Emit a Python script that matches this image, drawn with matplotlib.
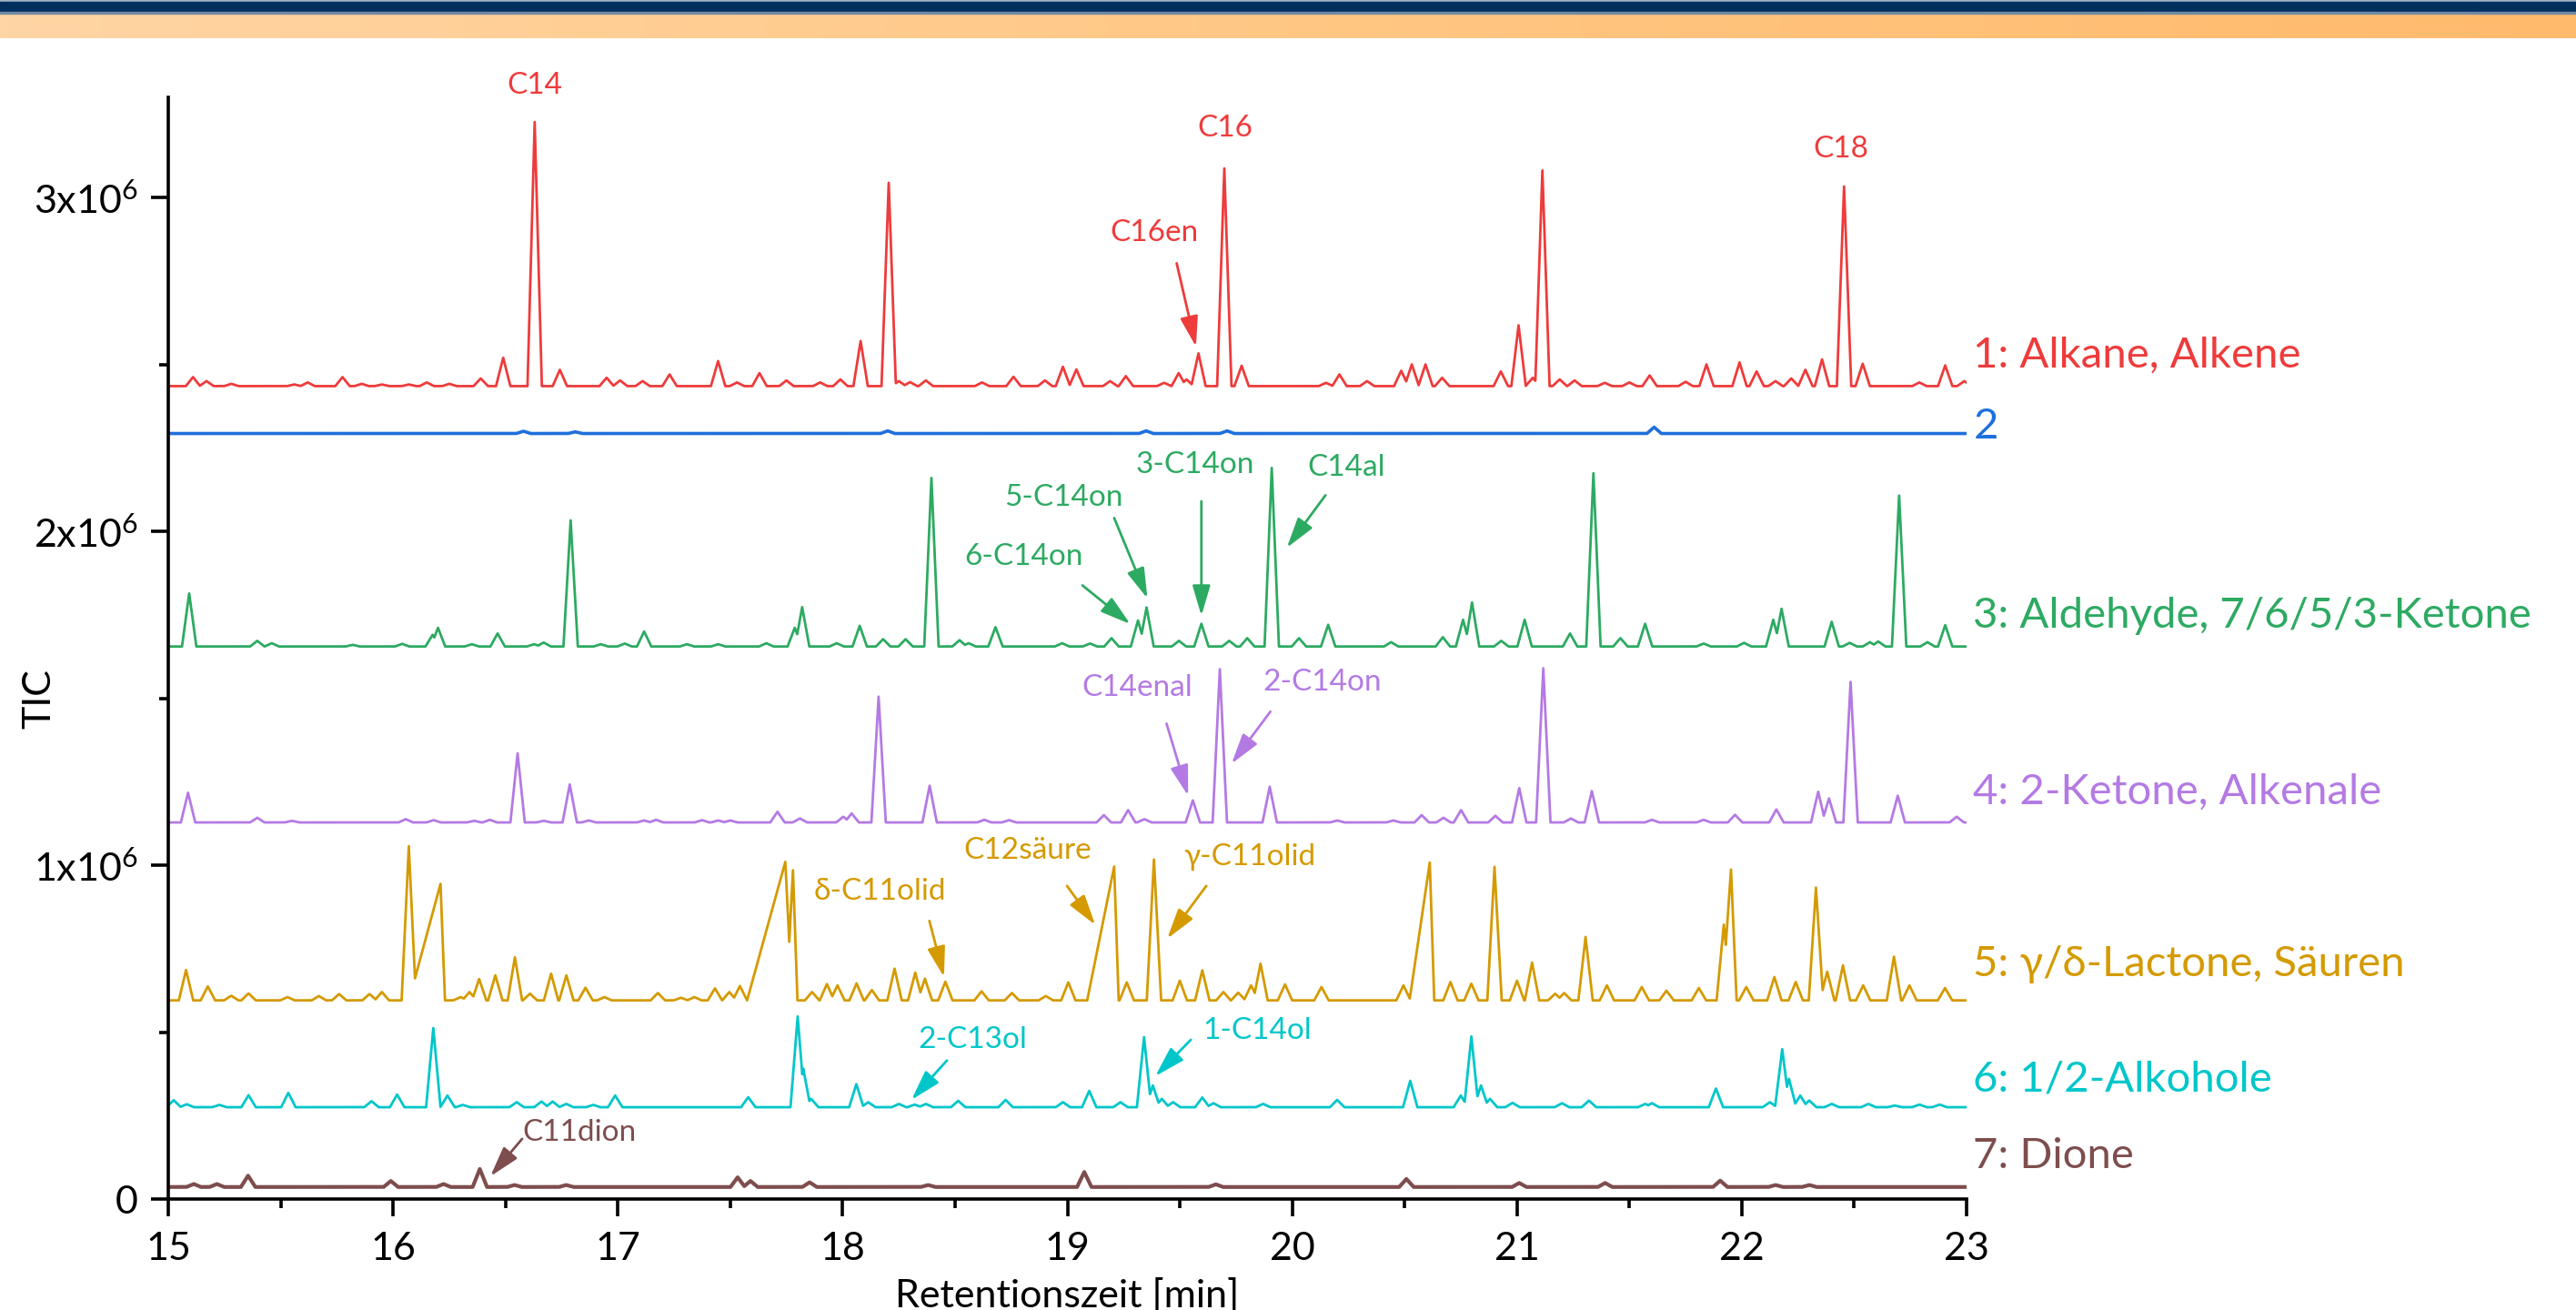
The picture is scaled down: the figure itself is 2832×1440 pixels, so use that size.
"""GC-MS TIC traces (15-23 min) for seven substance-class fractions, stacked with offsets."""

import matplotlib

matplotlib.use("Agg")
import matplotlib.pyplot as plt  # noqa: E402
import numpy as np  # noqa: E402
from matplotlib.colors import LinearSegmentedColormap  # noqa: E402

plt.rcParams["font.family"] = ["Lato", "DejaVu Sans"]
plt.rcParams["mathtext.fontset"] = "custom"
plt.rcParams["mathtext.rm"] = "Lato"
plt.rcParams["mathtext.it"] = "Lato:italic"

# --- data: baseline and peak table (retention time [min], TIC apex [x10^6]) per trace.
# Optional 3rd/4th entries are left/right peak half-widths for broad or leading peaks.
TRACE_NAMES = [
    "1: Alkane, Alkene",
    "2",
    "3: Aldehyde, 7/6/5/3-Ketone",
    "4: 2-Ketone, Alkenale",
    "5: γ/δ-Lactone, Säuren",
    "6: 1/2-Alkohole",
    "7: Dione",
]

RED_BASE = 2.435
RED_PEAKS = [
    (15.11, 2.462), (15.17, 2.45), (15.28, 2.442), (15.56, 2.44), (15.62, 2.446),
    (15.775, 2.462), (15.86, 2.442), (15.95, 2.44), (16.07, 2.44), (16.15, 2.446),
    (16.25, 2.442), (16.39, 2.458), (16.49, 2.52), (16.63, 3.226), (16.742, 2.484),
    (16.95, 2.46), (17.01, 2.452), (17.11, 2.45), (17.23, 2.47), (17.446, 2.51),
    (17.53, 2.446), (17.63, 2.474), (17.75, 2.452), (17.90, 2.446), (17.99, 2.455),
    (18.08, 2.57), (18.205, 3.044), (18.25, 2.45), (18.30, 2.447), (18.37, 2.452),
    (18.62, 2.446), (18.76, 2.463), (18.90, 2.452), (18.98, 2.493), (19.04, 2.485),
    (19.19, 2.45), (19.26, 2.465), (19.43, 2.445), (19.495, 2.474), (19.53, 2.455),
    (19.583, 2.533), (19.698, 3.087), (19.775, 2.496), (20.15, 2.445), (20.21, 2.47),
    (20.333, 2.45), (20.485, 2.481), (20.532, 2.50), (20.593, 2.50), (20.667, 2.46),
    (20.928, 2.479), (21.007, 2.617), (21.07, 2.46), (21.113, 3.081), (21.19, 2.455),
    (21.256, 2.452), (21.39, 2.445), (21.5, 2.446), (21.59, 2.467), (21.75, 2.448),
    (21.843, 2.50), (21.99, 2.506), (22.066, 2.479), (22.15, 2.45), (22.22, 2.458),
    (22.283, 2.484), (22.357, 2.515), (22.455, 3.033), (22.538, 2.502), (22.79, 2.446),
    (22.905, 2.497), (22.99, 2.45),
]

BLUE_BASE = 2.293
BLUE_PEAKS = [
    (16.58, 2.30), (16.81, 2.298), (18.20, 2.301), (19.35, 2.301), (19.71, 2.301),
    (21.61, 2.312),
]

GREEN_BASE = 1.655
GREEN_PEAKS = [
    (15.093, 1.814), (15.396, 1.672), (15.46, 1.665), (15.82, 1.66), (16.04, 1.663),
    (16.176, 1.69), (16.20, 1.711), (16.35, 1.662), (16.465, 1.694), (16.627, 1.662),
    (16.67, 1.667), (16.79, 2.033), (16.924, 1.662), (17.03, 1.664), (17.117, 1.70),
    (17.307, 1.662), (17.446, 1.662), (17.66, 1.665), (17.787, 1.711), (17.82, 1.773),
    (17.973, 1.665), (18.076, 1.717), (18.18, 1.677), (18.28, 1.677), (18.395, 2.160),
    (18.52, 1.674), (18.56, 1.665), (18.68, 1.713), (18.976, 1.665), (19.10, 1.664),
    (19.196, 1.68), (19.314, 1.733), (19.352, 1.772), (19.496, 1.672), (19.596, 1.723),
    (19.72, 1.672), (19.80, 1.68), (19.909, 2.190), (20.03, 1.68), (20.16, 1.72),
    (20.44, 1.668), (20.67, 1.683), (20.76, 1.735), (20.80, 1.787), (20.93, 1.672),
    (21.034, 1.735), (21.236, 1.694), (21.34, 2.174), (21.46, 1.68), (21.57, 1.723),
    (21.83, 1.664), (22.01, 1.666), (22.14, 1.735), (22.177, 1.768), (22.40, 1.729),
    (22.48, 1.666), (22.57, 1.668), (22.607, 1.67), (22.70, 2.107), (22.826, 1.668),
    (22.905, 1.719),
]

PURPLE_BASE = 1.128
PURPLE_PEAKS = [
    (15.088, 1.217), (15.396, 1.142), (15.55, 1.133), (16.056, 1.138), (16.18, 1.135),
    (16.36, 1.133), (16.43, 1.136), (16.554, 1.335), (16.67, 1.133), (16.786, 1.242),
    (16.87, 1.134), (17.116, 1.134), (17.17, 1.136), (17.374, 1.135), (17.446, 1.134),
    (17.50, 1.134), (17.71, 1.16), (17.81, 1.14), (18.003, 1.145), (18.04, 1.155),
    (18.16, 1.505), (18.387, 1.238), (18.63, 1.136), (18.74, 1.135), (19.162, 1.15),
    (19.27, 1.165), (19.342, 1.138), (19.558, 1.194), (19.678, 1.587), (19.90, 1.235),
    (20.2, 1.134), (20.45, 1.134), (20.576, 1.15), (20.673, 1.142), (20.751, 1.165),
    (20.904, 1.148), (21.01, 1.231), (21.117, 1.590), (21.24, 1.14), (21.333, 1.222),
    (21.60, 1.136), (21.83, 1.136), (21.97, 1.151), (22.154, 1.167), (22.34, 1.22),
    (22.388, 1.20), (22.484, 1.549), (22.694, 1.208), (22.956, 1.145),
]

GOLD_BASE = 0.595
GOLD_PEAKS = [
    (15.079, 0.686), (15.176, 0.637), (15.28, 0.609), (15.357, 0.616), (15.53, 0.605),
    (15.67, 0.608), (15.76, 0.614), (15.895, 0.614), (15.95, 0.62), (16.07, 1.057),
    (16.211, 0.944, 0.14, 0.02), (16.30, 0.605), (16.34, 0.62), (16.383, 0.659),
    (16.455, 0.670), (16.542, 0.724), (16.609, 0.615), (16.703, 0.675), (16.771, 0.67),
    (16.856, 0.633), (16.94, 0.605), (17.178, 0.617), (17.28, 0.603), (17.34, 0.605),
    (17.432, 0.631), (17.496, 0.62), (17.543, 0.638), (17.745, 1.01, 0.17, 0.03),
    (17.779, 0.985, 0.03, 0.02), (17.864, 0.62), (17.93, 0.644), (17.977, 0.64),
    (18.062, 0.646), (18.13, 0.626), (18.231, 0.690), (18.323, 0.678), (18.366, 0.66),
    (18.457, 0.651), (18.618, 0.622), (18.753, 0.617), (18.904, 0.608), (19.004, 0.649),
    (19.208, 0.996, 0.12, 0.02), (19.264, 0.649), (19.385, 1.017), (19.50, 0.654),
    (19.60, 0.685), (19.694, 0.62), (19.76, 0.618), (19.817, 0.64), (19.859, 0.705),
    (19.968, 0.643), (20.13, 0.635), (20.495, 0.64), (20.612, 1.008, 0.09, 0.02),
    (20.704, 0.65), (20.797, 0.645), (20.90, 0.995), (21.00, 0.654), (21.067, 0.708),
    (21.17, 0.615), (21.21, 0.617), (21.305, 0.785), (21.40, 0.64), (21.555, 0.635),
    (21.665, 0.624), (21.809, 0.632), (21.92, 0.822), (21.952, 0.987, 0.04, 0.025),
    (22.02, 0.635), (22.145, 0.665), (22.24, 0.65), (22.33, 0.933), (22.38, 0.681),
    (22.45, 0.70), (22.54, 0.64), (22.677, 0.726), (22.746, 0.64), (22.904, 0.632),
]

CYAN_BASE = 0.275
CYAN_PEAKS = [
    (15.024, 0.296), (15.082, 0.284), (15.227, 0.282), (15.357, 0.311), (15.534, 0.318),
    (15.904, 0.293), (16.018, 0.313), (16.179, 0.512), (16.242, 0.31), (16.31, 0.282),
    (16.55, 0.29), (16.66, 0.292), (16.71, 0.292), (16.77, 0.285), (16.89, 0.282),
    (16.988, 0.31), (17.58, 0.305), (17.80, 0.547), (17.825, 0.39), (17.86, 0.30),
    (18.061, 0.344), (18.114, 0.29), (18.25, 0.285), (18.32, 0.283), (18.37, 0.285),
    (18.514, 0.294), (18.725, 0.297), (18.98, 0.29), (19.097, 0.324), (19.236, 0.29),
    (19.341, 0.485), (19.38, 0.34), (19.42, 0.30), (19.47, 0.29), (19.60, 0.304),
    (19.65, 0.287), (19.87, 0.285), (20.20, 0.297), (20.525, 0.354), (20.75, 0.31),
    (20.797, 0.487), (20.84, 0.34), (20.88, 0.30), (20.98, 0.288), (21.2, 0.287),
    (21.32, 0.295), (21.57, 0.285), (21.60, 0.287), (21.885, 0.331), (22.125, 0.29),
    (22.18, 0.449), (22.21, 0.36), (22.26, 0.31), (22.30, 0.295), (22.40, 0.285),
    (22.563, 0.285), (22.68, 0.28), (22.79, 0.283), (22.88, 0.283),
]

BROWN_BASE = 0.036
BROWN_PEAKS = [
    (15.113, 0.045), (15.216, 0.045), (15.355, 0.07), (15.99, 0.054), (16.224, 0.045),
    (16.386, 0.09), (16.54, 0.042), (16.77, 0.042), (17.533, 0.065), (17.59, 0.054),
    (17.853, 0.05), (18.38, 0.042), (19.075, 0.081), (19.66, 0.044), (20.508, 0.06),
    (21.01, 0.048), (21.392, 0.048), (21.904, 0.055), (22.15, 0.042), (22.3, 0.042),
]

TRACES = [
    (RED_BASE, RED_PEAKS), (BLUE_BASE, BLUE_PEAKS), (GREEN_BASE, GREEN_PEAKS),
    (PURPLE_BASE, PURPLE_PEAKS), (GOLD_BASE, GOLD_PEAKS), (CYAN_BASE, CYAN_PEAKS),
    (BROWN_BASE, BROWN_PEAKS),
]

# --- style
COLORS = ["#EE3B3B", "#1E6FDC", "#2DAA62", "#B47AE4", "#D49A00", "#00C6CA", "#7E4D4D"]
LINEWIDTHS = [2.0, 2.6, 2.0, 2.0, 2.0, 2.0, 3.0]
PEAK_HW = 0.032  # default half-width of a peak at its base, min
LABEL_Y = [2.527, 2.314, 1.748, 1.219, 0.702, 0.358, 0.128]  # right-hand trace labels

# (trace index, text, text pos, arrow tail, arrow tip); no arrow when tail is None
ANNOTATIONS = [
    (0, "C14", (16.63, 3.335), None, None),
    (0, "C16", (19.70, 3.207), None, None),
    (0, "C18", (22.441, 3.144), None, None),
    (0, "C16en", (19.386, 2.893), (19.486, 2.803), (19.572, 2.553)),
    (2, "6-C14on", (18.804, 1.923), (19.067, 1.838), (19.280, 1.722)),
    (2, "5-C14on", (18.985, 2.100), (19.208, 2.040), (19.356, 1.799)),
    (2, "3-C14on", (19.569, 2.199), (19.596, 2.090), (19.596, 1.747)),
    (2, "C14al", (20.241, 2.190), (20.148, 2.108), (19.976, 1.951)),
    (3, "C14enal", (19.310, 1.531), (19.441, 1.424), (19.537, 1.208)),
    (3, "2-C14on", (20.135, 1.549), (19.903, 1.460), (19.730, 1.304)),
    (4, "δ-C11olid", (18.165, 0.922), (18.386, 0.833), (18.451, 0.665)),
    (4, "C12säure", (18.824, 1.044), (18.998, 0.938), (19.124, 0.821)),
    (4, "γ-C11olid", (19.810, 1.025), (19.618, 0.938), (19.444, 0.780)),
    (5, "2-C13ol", (18.577, 0.477), (18.464, 0.415), (18.306, 0.297)),
    (5, "1-C14ol", (19.844, 0.504), (19.549, 0.477), (19.391, 0.368)),
]

T = np.linspace(15, 23, 16001)


def render_trace(base, peaks):
    """Upper envelope of triangular peak shapes on top of a flat baseline."""
    y = np.full_like(T, base)
    for p in peaks:
        rt, h = p[0], p[1]
        wl = p[2] if len(p) > 2 else PEAK_HW
        wr = p[3] if len(p) > 3 else PEAK_HW
        left = h - (h - base) * (rt - T) / wl
        right = h - (h - base) * (T - rt) / wr
        y = np.maximum(y, np.where(T < rt, left, right))
    return y


def draw_banner(fig):
    W, H = 2832, 1440
    ax = fig.add_axes([0, 1 - 42 / H, 1, 42 / H])
    ax.set_xlim(0, W)
    ax.set_ylim(42, 0)
    ax.axis("off")
    cmap = LinearSegmentedColormap.from_list("band", ["#FFD5A4", "#FFC784", "#FFBA6C"])
    ax.imshow(np.linspace(0, 1, 256)[None, :], cmap=cmap, aspect="auto",
              extent=(0, W, 42, 14))
    ax.axhspan(0, 1.5, color="#9DB0C4")
    ax.axhspan(1.5, 13, color="#002F5E")
    ax.axhspan(13, 14.5, color="#7089A3")


def main():
    fig = plt.figure(figsize=(28.32, 14.4), dpi=100)
    draw_banner(fig)
    ax = fig.add_axes([185 / 2832, 122 / 1440, 1977 / 2832, 1211 / 1440])

    for (base, peaks), color, lw in zip(TRACES, COLORS, LINEWIDTHS):
        ax.plot(T, render_trace(base, peaks), color=color, lw=lw, solid_joinstyle="round")

    for name, y, color in zip(TRACE_NAMES, LABEL_Y, COLORS):
        ax.text(23.03, y, name, color=color, fontsize=34, ha="left", va="center",
                clip_on=False, family=["Lato", "DejaVu Sans"])

    for idx, text, pos, tail, tip in ANNOTATIONS:
        c = COLORS[idx]
        ax.text(pos[0], pos[1], text, color=c, fontsize=24, ha="center", va="center",
                clip_on=False, family=["Lato", "DejaVu Sans"])
        if tail is not None:
            ax.annotate("", xy=tip, xytext=tail,
                        arrowprops=dict(arrowstyle="-|>,head_length=0.85,head_width=0.25",
                                        color=c, lw=2.0, shrinkA=0, shrinkB=0,
                                        mutation_scale=24))
    # C11dion label sits to the right of its arrow tail
    c = COLORS[6]
    ax.text(16.574, 0.199, "C11dion", color=c, fontsize=24, ha="left", va="center")
    ax.annotate("", xy=(16.433, 0.068), xytext=(16.574, 0.180),
                arrowprops=dict(arrowstyle="-|>,head_length=0.85,head_width=0.25",
                                color=c, lw=2.0, shrinkA=0, shrinkB=0, mutation_scale=24))

    ax.set_xlim(15, 23)
    ax.set_ylim(0, 3.30)
    ax.set_xticks(np.arange(15, 24, 1))
    ax.set_xticks(np.arange(15.5, 23, 1), minor=True)
    ax.set_yticks([0, 1, 2, 3])
    ax.set_yticklabels(["0", r"1x10$^{6}$", r"2x10$^{6}$", r"3x10$^{6}$"])
    ax.set_yticks([0.5, 1.5, 2.5], minor=True)
    for side in ("top", "right"):
        ax.spines[side].set_visible(False)
    for side in ("left", "bottom"):
        ax.spines[side].set_linewidth(2.6)
    ax.tick_params(which="major", direction="out", length=14, width=2.6, labelsize=31)
    ax.tick_params(which="minor", direction="out", length=7, width=2.6)
    ax.tick_params(axis="x", which="major", pad=12)
    ax.tick_params(axis="y", which="major", pad=10)

    ax.set_xlabel("Retentionszeit [min]", fontsize=31)
    ax.xaxis.set_label_coords(0.5, -0.072)
    ax.set_ylabel("TIC", fontsize=31)
    ax.yaxis.set_label_coords(-0.062, 0.454)

    fig.savefig("out.png", dpi=100)
    plt.close(fig)


if __name__ == "__main__":
    main()
